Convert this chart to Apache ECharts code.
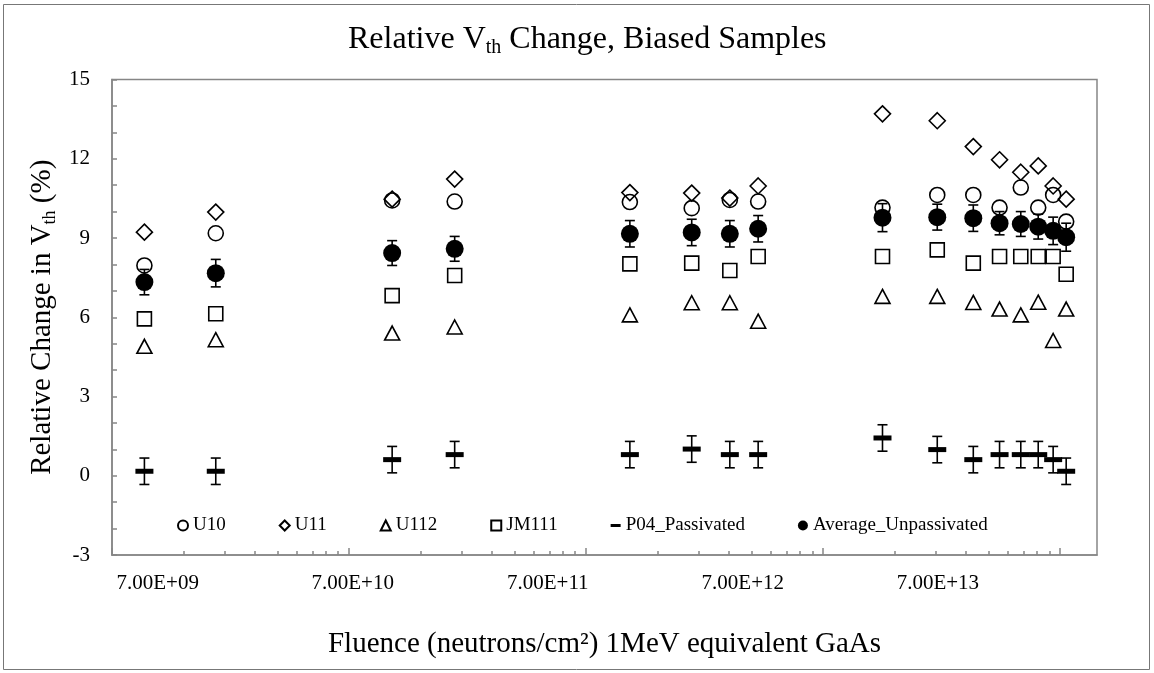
<!DOCTYPE html>
<html>
<head>
<meta charset="utf-8">
<script src="https://cdn.jsdelivr.net/npm/echarts@6.0.0/dist/echarts.min.js"></script>
<style>
html,body{margin:0;padding:0;background:#fff;}
#chart{width:1154px;height:673px;}
</style>
</head>
<body>
<div id="chart"></div>
<script>
// ---- data ----
var fluence = [1.37e9, 2.74e9, 1.52e10, 2.79e10, 1.53e11, 2.79e11, 4.04e11, 5.32e11, 1.78e12, 3.03e12, 4.30e12, 5.55e12, 6.82e12, 8.08e12, 9.34e12, 1.06e13];
var u10  = [7.96, 9.18, 10.42, 10.38, 10.36, 10.13, 10.44, 10.38, 10.15, 10.63, 10.63, 10.15, 10.91, 10.15, 10.63, 9.62];
var u11  = [9.22, 9.98, 10.47, 11.23, 10.72, 10.70, 10.51, 10.97, 13.70, 13.44, 12.46, 11.96, 11.49, 11.73, 10.97, 10.47];
var u112 = [4.90, 5.15, 5.40, 5.63, 6.09, 6.55, 6.55, 5.85, 6.79, 6.79, 6.56, 6.31, 6.09, 6.57, 5.12, 6.31];
var jm111 = [5.94, 6.13, 6.82, 7.58, 8.02, 8.05, 7.77, 8.30, 8.30, 8.55, 8.05, 8.30, 8.30, 8.30, 8.30, 7.63];
var p04    = [0.17, 0.17, 0.61, 0.80, 0.80, 1.01, 0.80, 0.80, 1.43, 0.99, 0.61, 0.80, 0.80, 0.80, 0.61, 0.17];
var p04Err = [0.50, 0.50, 0.50, 0.50, 0.50, 0.50, 0.50, 0.50, 0.50, 0.50, 0.50, 0.50, 0.50, 0.50, 0.50, 0.50];
var avg    = [7.33, 7.67, 8.43, 8.59, 9.16, 9.21, 9.16, 9.35, 9.77, 9.79, 9.75, 9.56, 9.53, 9.43, 9.27, 9.03];
var avgErr = [0.48, 0.52, 0.47, 0.47, 0.50, 0.50, 0.50, 0.50, 0.53, 0.49, 0.50, 0.44, 0.47, 0.47, 0.52, 0.53];
var xTickLabels = ['7.00E+09', '7.00E+10', '7.00E+11', '7.00E+12', '7.00E+13'];
var seriesNames = ['U10', 'U11', 'U112', 'JM111', 'P04_Passivated', 'Average_Unpassivated'];
var yMin = -3, yMax = 15, yStep = 3;
var xMinFluence = 1e9, xMaxFluence = 1.43e13;

// ---- helpers ----
var FONT = 'Liberation Serif';
var AXIS_GRAY = '#868686';
function lg(v){ return Math.log10(v); }
function pts(ys){ return fluence.map(function(f,i){ return [lg(f), ys[i]]; }); }
function errPts(ys, es){ return fluence.map(function(f,i){ return [lg(f), ys[i], es[i]]; }); }

var xMin = lg(xMinFluence), xMax = lg(xMaxFluence);
var majorTicks = [], minorTicks = [];
for (var k = Math.ceil(xMin); k <= Math.floor(xMax); k++) {
  majorTicks.push(k);
  for (var m = 2; m <= 9; m++) { var v = k + lg(m); if (v < xMax) minorTicks.push(v); }
}
// tick-label placement as in the reference picture
var LABEL_START = xMin + 0.1928, LABEL_STEP = 0.8228;
var labelVals = xTickLabels.map(function(_, i){ return LABEL_START + i * LABEL_STEP; });

function renderErr(params, api) {
  var x = api.value(0), y = api.value(1), e = api.value(2);
  var t = api.coord([x, y + e]), b = api.coord([x, y - e]);
  var cap = 5, st = {stroke: '#000', lineWidth: 1.6};
  return {type: 'group', children: [
    {type: 'line', shape: {x1: t[0], y1: t[1], x2: b[0], y2: b[1]}, style: st},
    {type: 'line', shape: {x1: t[0] - cap, y1: t[1], x2: t[0] + cap, y2: t[1]}, style: st},
    {type: 'line', shape: {x1: b[0] - cap, y1: b[1], x2: b[0] + cap, y2: b[1]}, style: st}
  ]};
}

var hollow = {color: 'rgba(255,255,255,0)', borderColor: '#000', borderWidth: 1.6, opacity: 1};
var solid = {color: '#000', opacity: 1};

var option = {
  animation: false,
  backgroundColor: '#fff',
  textStyle: {fontFamily: FONT, color: '#000'},
  title: {
    text: 'Relative V{s|th} Change, Biased Samples',
    left: 343, top: 17,
    textStyle: {fontFamily: FONT, fontSize: 32, fontWeight: 'normal', color: '#000', lineHeight: 36,
      rich: {s: {fontFamily: FONT, fontSize: 20, color: '#000', lineHeight: 20, verticalAlign: 'bottom'}}}
  },
  graphic: [{type: 'rect', silent: true, shape: {x: 3.5, y: 4.5, width: 1146, height: 665},
    style: {fill: 'none', stroke: '#777', lineWidth: 1}}],
  legend: {
    left: 172, top: 511, itemGap: 53, itemWidth: 10, itemHeight: 10, symbolKeepAspect: true,
    textStyle: {fontFamily: FONT, fontSize: 19, color: '#000'},
    data: [
      {name: seriesNames[0], icon: 'circle'},
      {name: seriesNames[1], icon: 'diamond'},
      {name: seriesNames[2], icon: 'triangle'},
      {name: seriesNames[3], icon: 'rect'},
      {name: seriesNames[4], icon: 'path://M0,0L20,0L20,6L0,6Z'},
      {name: seriesNames[5], icon: 'circle'}
    ]
  },
  grid: {left: 112, top: 79.5, right: 57, bottom: 118, containLabel: false, outerBoundsMode: 'none',
    show: true, borderColor: AXIS_GRAY, borderWidth: 1.5, backgroundColor: '#fff'},
  xAxis: [{
    type: 'value', min: xMin, max: xMax, position: 'bottom',
    axisLine: {show: true, onZero: false, lineStyle: {color: AXIS_GRAY, width: 1.5}},
    axisTick: {show: true, inside: true, length: 7, customValues: majorTicks, lineStyle: {color: AXIS_GRAY, width: 1.5}},
    axisLabel: {show: true, customValues: labelVals, margin: 18, fontFamily: FONT, fontSize: 21, color: '#000',
      formatter: function(v){ var i = Math.round((v - LABEL_START) / LABEL_STEP); return xTickLabels[i] || ''; }},
    splitLine: {show: false},
    name: 'Fluence (neutrons/cm²) 1MeV equivalent GaAs', nameLocation: 'middle', nameGap: 75, nameMoveOverlap: false,
    nameTextStyle: {fontFamily: FONT, fontSize: 29, color: '#000'}
  }, {
    type: 'value', min: xMin, max: xMax, position: 'bottom',
    axisLine: {show: false, onZero: false},
    axisTick: {show: true, inside: true, length: 4, customValues: minorTicks, lineStyle: {color: AXIS_GRAY, width: 1.5}},
    axisLabel: {show: false}, splitLine: {show: false}
  }],
  yAxis: {
    type: 'value', min: yMin, max: yMax, interval: yStep,
    axisLine: {show: true, onZero: false, lineStyle: {color: AXIS_GRAY, width: 1.5}},
    axisTick: {show: true, inside: true, length: 5, lineStyle: {color: AXIS_GRAY, width: 1.5}},
    minorTick: {show: true, splitNumber: 3, length: 5, lineStyle: {color: AXIS_GRAY, width: 1.5}},
    axisLabel: {margin: 22, fontFamily: FONT, fontSize: 21, color: '#000'},
    splitLine: {show: false}, minorSplitLine: {show: false},
    name: 'Relative Change in V{s|th} (%)', nameLocation: 'middle', nameGap: 53, nameRotate: 90, nameMoveOverlap: false,
    nameTextStyle: {fontFamily: FONT, fontSize: 29, color: '#000', lineHeight: 34,
      rich: {s: {fontFamily: FONT, fontSize: 18, color: '#000', lineHeight: 18, verticalAlign: 'bottom'}}}
  },
  series: [
    {name: seriesNames[0], type: 'scatter', symbol: 'circle', symbolSize: 15, itemStyle: hollow, data: pts(u10), z: 3},
    {name: seriesNames[1], type: 'scatter', symbol: 'diamond', symbolSize: 16, itemStyle: hollow, data: pts(u11), z: 3},
    {name: seriesNames[2], type: 'scatter', symbol: 'triangle', symbolSize: [15, 14], itemStyle: hollow, data: pts(u112), z: 3},
    {name: seriesNames[3], type: 'scatter', symbol: 'rect', symbolSize: 14, itemStyle: hollow, data: pts(jm111), z: 3},
    {name: 'P04 error', type: 'custom', renderItem: renderErr, data: errPts(p04, p04Err), z: 4, encode: {x: 0, y: 1}},
    {name: seriesNames[4], type: 'scatter', symbol: 'rect', symbolSize: [18, 5], itemStyle: solid, data: pts(p04), z: 5},
    {name: 'Average error', type: 'custom', renderItem: renderErr, data: errPts(avg, avgErr), z: 4, encode: {x: 0, y: 1}},
    {name: seriesNames[5], type: 'scatter', symbol: 'circle', symbolSize: 18, itemStyle: solid, data: pts(avg), z: 5}
  ]
};
var chart = echarts.init(document.getElementById('chart'), null, {renderer: 'canvas'});
chart.setOption(option);
</script>
</body>
</html>
